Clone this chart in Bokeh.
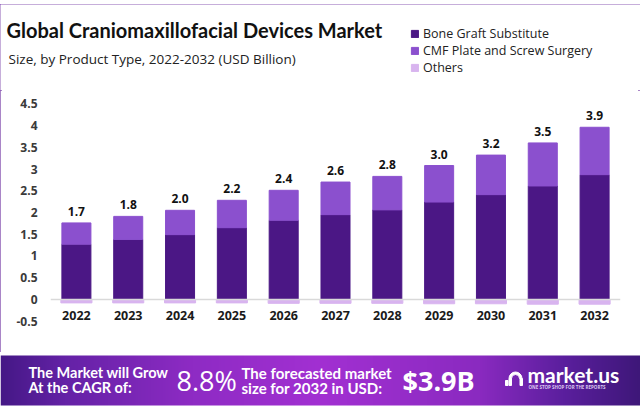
import numpy as np
from bokeh.plotting import figure
from bokeh.models import (Range1d, FactorRange, FixedTicker, PrintfTickFormatter, Span,
                          Legend, LegendItem, ColumnDataSource, Spacer)
from bokeh.layouts import column
from bokeh.core.properties import value
from bokeh.embed import file_html
from bokeh.resources import INLINE

# ---------------- data ----------------
years = ["2022", "2023", "2024", "2025", "2026", "2027", "2028", "2029", "2030", "2031", "2032"]
bone_graft = [1.27, 1.38, 1.49, 1.65, 1.82, 1.95, 2.06, 2.24, 2.41, 2.61, 2.87]
cmf_plate = [0.49, 0.53, 0.56, 0.63, 0.69, 0.75, 0.77, 0.84, 0.91, 0.99, 1.09]
others = [0.08, 0.08, 0.08, 0.08, 0.09, 0.09, 0.09, 0.10, 0.10, 0.11, 0.11]
total_labels = ["1.7", "1.8", "2.0", "2.2", "2.4", "2.6", "2.8", "3.0", "3.2", "3.5", "3.9"]
series_names = ["Bone Graft Substitute", "CMF Plate and Screw Surgery", "Others"]
y_ticks = [-0.5, 0, 0.5, 1, 1.5, 2, 2.5, 3, 3.5, 4, 4.5]

title_text = "Global Craniomaxillofacial Devices Market"
subtitle_text = "Size, by Product Type, 2022-2032 (USD Billion)"
cagr_lines = ["The Market will Grow", "At the CAGR of:"]
cagr_value = "8.8%"
forecast_lines = ["The forecasted market", "size for 2032 in USD:"]
forecast_value = "$3.9B"
brand = "market.us"
brand_tag = "ONE STOP SHOP FOR THE REPORTS"

colors = ["#4b1785", "#8b50ce", "#d8b4ef"]
FONT = "Open Sans"

# ---------------- header ----------------
hdr = figure(width=640, height=86, x_range=Range1d(0, 640), y_range=Range1d(90, 4),
             output_backend="svg", toolbar_location=None, min_border=0,
             x_axis_type=None, y_axis_type=None)
hdr.grid.visible = False
hdr.outline_line_color = None
hdr.text(x=[6], y=[29], text=[title_text], text_font=value("Lato"), text_font_style="bold",
         text_font_size="20px", text_baseline="middle", text_color="#111111")
hdr.text(x=[8], y=[58], text=[subtitle_text], text_font=value(FONT),
         text_font_size="13.5px", text_baseline="middle", text_color="#222222")
dummies = [hdr.vbar(x=[-50], top=[-50], bottom=[-60], width=1, color=c) for c in colors]
leg = Legend(items=[LegendItem(label=n, renderers=[r]) for n, r in zip(series_names, dummies)],
             location=(410, 14), border_line_color=None, background_fill_alpha=0,
             padding=0, margin=0, spacing=0, glyph_width=9, glyph_height=9,
             label_standoff=4, label_height=14, label_text_font=FONT,
             label_text_font_size="12.5px", label_text_color="#222222")
hdr.add_layout(leg)

# ---------------- main chart ----------------
src = ColumnDataSource(dict(
    year=years, bone=bone_graft, cmf=cmf_plate,
    total=[b + c for b, c in zip(bone_graft, cmf_plate)],
    oth_bottom=[-o for o in others], label=total_labels))

p = figure(width=640, height=262, x_range=FactorRange(*years), y_range=Range1d(-0.6, 4.645),
           output_backend="svg", toolbar_location=None,
           min_border_left=50, min_border_right=20, min_border_top=7, min_border_bottom=27)
p.grid.visible = False
p.outline_line_color = None

p.add_layout(Span(location=0, dimension="width", line_color="#d9d9d9", line_width=1.5))
p.vbar(x="year", top=0, bottom="oth_bottom", width=0.6, source=src, color=colors[2])
p.vbar_stack(["bone", "cmf"], x="year", width=0.56, source=src, color=colors[:2])
p.text(x="year", y="total", text="label", source=src, text_align="center",
       text_baseline="bottom", y_offset=-7, text_font=value(FONT), text_font_style="bold",
       text_font_size="12px", text_color="#111111")

p.yaxis.ticker = FixedTicker(ticks=y_ticks)
p.yaxis.formatter = PrintfTickFormatter(format="%g")
p.yaxis.axis_line_color = None
p.yaxis.major_tick_line_color = None
p.yaxis.minor_tick_line_color = None
p.yaxis.major_tick_out = 0
p.yaxis.major_tick_in = 0
p.yaxis.major_label_standoff = 13
p.yaxis.major_label_text_font = FONT
p.yaxis.major_label_text_font_style = "bold"
p.yaxis.major_label_text_font_size = "12px"
p.yaxis.major_label_text_color = "#3a3a3a"

p.xaxis.fixed_location = -0.03
p.xaxis.axis_line_color = None
p.xaxis.major_tick_line_color = None
p.xaxis.minor_tick_line_color = None
p.xaxis.major_label_standoff = 4
p.xaxis.major_label_text_font = FONT
p.xaxis.major_label_text_font_style = "bold"
p.xaxis.major_label_text_font_size = "12.5px"
p.xaxis.major_label_text_color = "#1a1a1a"

# ---------------- banner ----------------
ban = figure(width=640, height=59, x_range=Range1d(0, 640), y_range=Range1d(59, 0),
             output_backend="svg", toolbar_location=None, min_border=0,
             x_axis_type=None, y_axis_type=None)
ban.grid.visible = False
ban.outline_line_color = None

stops_x = [0.0, 0.1, 0.3, 0.5, 0.75, 0.88, 1.0]
stops_c = ["#451886", "#6422a6", "#8e2bc4", "#a230d2", "#8a2ac0", "#5b1f9e", "#3e1779"]
def hex2rgb(h):
    return [int(h[i:i + 2], 16) for i in (1, 3, 5)]
rgb = np.array([hex2rgb(c) for c in stops_c], dtype=float)
W = 640
xs = np.linspace(0, 1, W)
img = np.zeros((2, W), dtype=np.uint32)
view = img.view(dtype=np.uint8).reshape((2, W, 4))
for k in range(3):
    view[:, :, k] = np.interp(xs, stops_x, rgb[:, k]).astype(np.uint8)[None, :]
view[:, :, 3] = 255
ban.image_rgba(image=[img], x=0, y=3, dw=640, dh=50)

ban.text(x=[28, 28], y=[20, 35], text=cagr_lines, text_font=value("Lato"), text_font_style="bold",
         text_font_size="14.5px", text_baseline="middle", text_color="white")
ban.text(x=[176], y=[28], text=[cagr_value], text_font=value(FONT),
         text_font_size="27px", text_baseline="middle", text_color="white")
ban.text(x=[241, 241], y=[20, 35], text=forecast_lines, text_font=value("Lato"), text_font_style="bold",
         text_font_size="15px", text_baseline="middle", text_color="white")
ban.text(x=[402], y=[28], text=[forecast_value], text_font=value(FONT), text_font_style="bold",
         text_font_size="27px", text_baseline="middle", text_color="white")
# logo
ban.annular_wedge(x=[515], y=[26], inner_radius=4, outer_radius=6.5, start_angle=0, end_angle=np.pi,
                  color="white", direction="anticlock")
ban.quad(left=[508.5, 519.5], right=[511, 522], top=[26, 26], bottom=[33, 33], color="white")
ban.quad(left=[505], right=[507.5], top=[28], bottom=[33], color="white")
ban.text(x=[527], y=[22], text=[brand], text_font=value("Lato"), text_font_style="bold",
         text_font_size="21px", text_baseline="middle", text_color="white")
ban.text(x=[528], y=[34], text=[brand_tag], text_font=value(FONT), text_font_style="bold",
         text_font_size="4.5px", text_baseline="middle", text_color="#dcc8f0")

inner = column(column(hdr), p, spacing=0,
               styles={"outline": "2px solid #8c5cb5", "outline-offset": "-2px"})
layout = column(Spacer(width=640, height=4), inner, ban, spacing=0)

open("out.html", "w").write(file_html(layout, INLINE))
